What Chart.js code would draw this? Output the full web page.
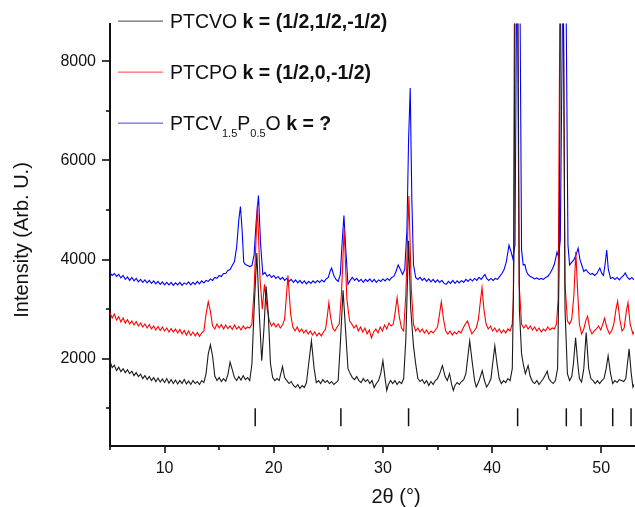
<!DOCTYPE html>
<html>
<head>
<meta charset="utf-8">
<script src="https://cdn.jsdelivr.net/npm/chart.js@4.4.1/dist/chart.umd.min.js"></script>
<style>
  html, body { margin: 0; padding: 0; background: #ffffff; }
  #wrap { width: 635px; height: 507px; position: relative; }
</style>
</head>
<body>
<div id="wrap"><canvas id="c" width="635" height="507"></canvas></div>
<script>
// ---- data (2θ in degrees, intensity in Arb. U.) ----
const xRange = [5, 53];
const yRange = [240, 8760];
const yTickValues = [2000, 4000, 6000, 8000];
const xTickValues = [10, 20, 30, 40, 50];

const seriesNames = ['PTCVO', 'PTCPO', 'PTCV1.5P0.5O'];
const seriesK = ['k = (1/2,1/2,-1/2)', 'k = (1/2,0,-1/2)', 'k = ?'];

const braggPositions = [18.3, 26.15, 32.35, 42.34, 46.8, 48.15, 51.05, 52.73];
const braggLow = 640, braggHigh = 1000;

const ptcvo = [
[5.0,1950],[5.2,1820],[5.4,1870],[5.6,1760],[5.8,1830],[6.0,1740],[6.2,1800],[6.4,1720],[6.6,1780],[6.8,1700],
[7.0,1750],[7.2,1660],[7.4,1720],[7.6,1640],[7.8,1690],[8.0,1600],[8.2,1660],[8.4,1580],[8.6,1640],[8.8,1560],
[9.0,1620],[9.2,1540],[9.4,1610],[9.6,1530],[9.8,1590],[10.0,1520],[10.2,1600],[10.4,1510],[10.6,1580],[10.8,1500],
[11.0,1570],[11.2,1490],[11.4,1560],[11.6,1500],[11.8,1580],[12.0,1490],[12.2,1550],[12.4,1480],[12.6,1560],[12.8,1500],
[13.0,1540],[13.2,1480],[13.4,1560],[13.6,1520],[13.8,1700],[14.0,2100],[14.2,2280],[14.4,2050],[14.6,1650],[14.8,1560],
[15.0,1620],[15.2,1540],[15.4,1600],[15.6,1550],[15.8,1680],[16.0,1930],[16.2,1780],[16.4,1620],[16.6,1560],[16.8,1640],
[17.0,1570],[17.2,1660],[17.4,1580],[17.6,1620],[17.8,1560],[18.0,1900],[18.2,3000],[18.45,4130],[18.7,2800],[18.9,1960],
[19.1,2600],[19.3,3460],[19.5,2900],[19.7,1900],[19.9,1620],[20.1,1560],[20.3,1600],[20.5,1560],[20.8,1840],[21.0,1620],
[21.2,1560],[21.4,1500],[21.6,1540],[21.8,1460],[22.0,1420],[22.2,1480],[22.4,1400],[22.6,1460],[22.8,1420],[23.0,1520],
[23.2,1900],[23.45,2360],[23.7,1800],[23.9,1520],[24.1,1560],[24.3,1500],[24.5,1580],[24.7,1520],[24.9,1560],[25.1,1500],
[25.3,1540],[25.5,1480],[25.7,1520],[25.9,1560],[26.1,2300],[26.35,3380],[26.6,2500],[26.8,1800],[27.0,1700],[27.2,1620],
[27.4,1580],[27.6,1640],[27.8,1560],[28.0,1520],[28.2,1600],[28.4,1540],[28.6,1580],[28.8,1500],[29.0,1560],[29.2,1420],
[29.4,1500],[29.6,1560],[29.8,1700],[30.0,1960],[30.2,1600],[30.35,1360],[30.5,1480],[30.7,1560],[30.9,1500],[31.1,1560],
[31.3,1480],[31.5,1540],[31.7,1500],[31.9,1600],[32.1,2400],[32.35,4380],[32.55,3000],[32.8,2260],[33.0,1900],[33.2,1600],
[33.4,1540],[33.6,1580],[33.8,1500],[34.0,1560],[34.2,1460],[34.4,1540],[34.6,1480],[34.8,1560],[35.0,1600],[35.2,1700],
[35.45,1860],[35.7,1640],[35.9,1560],[36.1,1700],[36.3,1480],[36.45,1360],[36.6,1460],[36.8,1520],[37.0,1480],[37.2,1540],
[37.4,1580],[37.6,1700],[37.95,2360],[38.2,1900],[38.4,1560],[38.55,1430],[38.7,1500],[38.9,1620],[39.1,1760],[39.3,1560],
[39.5,1430],[39.7,1500],[39.9,1600],[40.05,1900],[40.25,2260],[40.45,1900],[40.65,1600],[40.85,1500],[41.05,1560],[41.25,1520],
[41.45,1600],[41.65,1560],[41.85,1800],[42.0,4000],[42.1,9500],[42.22,40000],[42.36,9500],[42.5,3000],[42.7,2100],[42.85,1900],
[43.05,1700],[43.3,1860],[43.5,1640],[43.7,1540],[43.9,1500],[44.1,1560],[44.3,1480],[44.5,1540],[44.7,1600],[44.9,1680],
[45.05,1750],[45.2,1600],[45.4,1540],[45.6,1500],[45.8,1560],[46.0,1800],[46.15,4000],[46.27,9500],[46.4,40000],[46.53,9500],
[46.68,3000],[46.9,1700],[47.1,1560],[47.3,1640],[47.45,1900],[47.65,2420],[47.85,1900],[48.0,1600],[48.2,1530],[48.4,1800],
[48.62,2530],[48.85,1800],[49.05,1600],[49.25,1560],[49.45,1500],[49.65,1560],[49.85,1500],[50.05,1560],[50.25,1600],[50.45,1800],
[50.63,2060],[50.85,1700],[51.05,1500],[51.25,1560],[51.45,1520],[51.65,1580],[51.85,1560],[52.05,1540],[52.25,1600],[52.4,1900],
[52.55,2200],[52.75,1700],[52.9,1430],[53.05,1500]
];

const ptcpo = [
[5.0,2930],[5.2,2820],[5.4,2900],[5.6,2780],[5.8,2850],[6.0,2740],[6.2,2820],[6.4,2720],[6.6,2790],[6.8,2700],
[7.0,2760],[7.2,2680],[7.4,2750],[7.6,2660],[7.8,2720],[8.0,2640],[8.2,2700],[8.4,2620],[8.6,2690],[8.8,2600],
[9.0,2660],[9.2,2580],[9.4,2650],[9.6,2570],[9.8,2640],[10.0,2560],[10.2,2620],[10.4,2540],[10.6,2610],[10.8,2540],
[11.0,2600],[11.2,2520],[11.4,2590],[11.6,2500],[11.8,2570],[12.0,2480],[12.2,2560],[12.4,2470],[12.6,2540],[12.8,2460],
[13.0,2530],[13.2,2450],[13.4,2520],[13.6,2560],[13.8,2900],[14.0,3150],[14.2,2950],[14.4,2660],[14.6,2600],[14.8,2700],
[15.0,2620],[15.2,2690],[15.4,2600],[15.6,2680],[15.8,2610],[16.0,2660],[16.2,2590],[16.4,2680],[16.6,2600],[16.8,2650],
[17.0,2580],[17.2,2660],[17.4,2600],[17.6,2640],[17.8,2620],[18.0,2700],[18.2,3400],[18.5,5100],[18.75,3600],[18.95,3000],
[19.15,3500],[19.4,3000],[19.6,2760],[19.8,2660],[20.0,2720],[20.2,2640],[20.4,2700],[20.6,2620],[20.8,2680],[21.0,2800],
[21.3,3680],[21.55,2900],[21.75,2640],[21.95,2560],[22.15,2640],[22.35,2540],[22.55,2600],[22.75,2520],[22.95,2580],[23.15,2500],
[23.35,2560],[23.55,2480],[23.75,2540],[23.95,2460],[24.15,2520],[24.35,2460],[24.55,2540],[24.75,2600],[24.9,2850],[25.05,3130],
[25.2,2850],[25.4,2620],[25.6,2560],[25.8,2640],[26.0,2700],[26.2,3300],[26.45,4620],[26.7,3200],[26.95,2760],[27.15,2700],
[27.35,2620],[27.55,2680],[27.75,2560],[27.95,2640],[28.15,2540],[28.35,2620],[28.55,2500],[28.75,2580],[28.95,2420],[29.15,2540],
[29.35,2600],[29.55,2520],[29.75,2640],[29.95,2560],[30.15,2680],[30.35,2600],[30.55,2720],[30.75,2660],[30.95,2700],[31.1,2900],
[31.3,3230],[31.5,2850],[31.7,2620],[31.9,2560],[32.1,3300],[32.38,5280],[32.6,3400],[32.8,2700],[33.0,2560],[33.2,2620],
[33.4,2540],[33.6,2600],[33.8,2520],[34.0,2580],[34.2,2500],[34.4,2560],[34.6,2520],[34.8,2580],[35.0,2640],[35.15,2850],
[35.35,3150],[35.55,2800],[35.75,2560],[35.95,2500],[36.15,2560],[36.35,2480],[36.55,2540],[36.75,2500],[36.95,2560],[37.15,2520],
[37.35,2620],[37.55,2700],[37.75,2760],[37.95,2620],[38.15,2500],[38.35,2560],[38.55,2620],[38.75,2800],[38.95,3200],[39.08,3430],
[39.25,3000],[39.45,2700],[39.65,2600],[39.85,2660],[40.05,2560],[40.25,2620],[40.45,2540],[40.65,2600],[40.85,2520],[41.05,2580],
[41.25,2520],[41.45,2600],[41.65,2560],[41.85,2700],[41.95,3200],[42.05,9500],[42.18,40000],[42.32,9500],[42.48,3500],[42.7,2700],
[42.9,2620],[43.1,2680],[43.3,2600],[43.5,2660],[43.7,2580],[43.9,2640],[44.1,2560],[44.3,2620],[44.5,2540],[44.7,2600],
[44.9,2560],[45.1,2640],[45.3,2580],[45.5,2620],[45.7,2600],[45.9,2700],[46.05,3200],[46.22,9500],[46.37,40000],[46.52,9500],
[46.68,3500],[46.9,2760],[47.1,2700],[47.3,2800],[47.5,3300],[47.67,4160],[47.85,3300],[48.0,2700],[48.2,2500],[48.4,2600],
[48.6,2780],[48.75,2860],[48.95,2600],[49.15,2500],[49.35,2560],[49.55,2600],[49.75,2660],[49.95,2580],[50.15,2700],[50.3,2820],
[50.5,2640],[50.75,2500],[50.95,2560],[51.15,2700],[51.35,3000],[51.5,3160],[51.7,2800],[51.9,2560],[52.1,2620],[52.3,2960],
[52.45,3130],[52.65,2700],[52.9,2500],[53.05,2560]
];

const ptcvpo = [
[5.0,3730],[5.2,3680],[5.4,3720],[5.6,3660],[5.8,3700],[6.0,3630],[6.2,3680],[6.4,3600],[6.6,3650],[6.8,3580],
[7.0,3640],[7.2,3570],[7.4,3620],[7.6,3550],[7.8,3600],[8.0,3540],[8.2,3590],[8.4,3530],[8.6,3580],[8.8,3520],
[9.0,3570],[9.2,3510],[9.4,3560],[9.6,3500],[9.8,3550],[10.0,3490],[10.2,3540],[10.4,3490],[10.6,3540],[10.8,3480],
[11.0,3530],[11.2,3490],[11.4,3540],[11.6,3480],[11.8,3530],[12.0,3500],[12.2,3550],[12.4,3490],[12.6,3540],[12.8,3500],
[13.0,3560],[13.2,3510],[13.4,3570],[13.6,3530],[13.8,3580],[14.0,3560],[14.2,3610],[14.4,3580],[14.6,3640],[14.8,3620],
[15.0,3680],[15.2,3660],[15.4,3720],[15.6,3720],[15.8,3780],[16.0,3800],[16.2,3880],[16.4,3960],[16.6,4250],[16.8,4800],
[16.95,5070],[17.1,4600],[17.25,3950],[17.4,3900],[17.6,3880],[17.8,3860],[18.0,3880],[18.2,4100],[18.4,4800],[18.6,5290],
[18.8,4300],[19.0,3700],[19.2,3740],[19.4,3660],[19.6,3700],[19.8,3640],[20.0,3680],[20.2,3620],[20.4,3660],[20.6,3600],
[20.8,3640],[21.0,3580],[21.2,3620],[21.4,3560],[21.6,3600],[21.8,3540],[22.0,3590],[22.2,3530],[22.4,3580],[22.6,3520],
[22.8,3570],[23.0,3510],[23.2,3560],[23.4,3520],[23.6,3570],[23.8,3530],[24.0,3580],[24.2,3540],[24.4,3590],[24.6,3550],
[24.8,3610],[25.0,3640],[25.15,3760],[25.3,3830],[25.5,3680],[25.7,3600],[25.9,3560],[26.1,3700],[26.25,4300],[26.43,4890],
[26.6,4200],[26.8,3500],[27.0,3580],[27.2,3640],[27.4,3580],[27.6,3620],[27.8,3560],[28.0,3600],[28.2,3540],[28.4,3600],
[28.6,3560],[28.8,3610],[29.0,3550],[29.2,3600],[29.4,3540],[29.6,3590],[29.8,3560],[30.0,3610],[30.2,3570],[30.4,3620],
[30.6,3580],[30.8,3640],[31.0,3660],[31.2,3760],[31.4,3890],[31.6,3800],[31.8,3700],[32.0,3800],[32.2,4600],[32.35,6400],
[32.5,7460],[32.65,5200],[32.8,3900],[33.0,3640],[33.2,3600],[33.4,3640],[33.6,3580],[33.8,3620],[34.0,3560],[34.2,3610],
[34.4,3550],[34.6,3600],[34.8,3540],[35.0,3590],[35.2,3540],[35.4,3580],[35.6,3520],[35.8,3500],[36.0,3560],[36.2,3520],
[36.4,3580],[36.6,3520],[36.8,3570],[37.0,3530],[37.2,3580],[37.4,3540],[37.6,3600],[37.8,3560],[38.0,3610],[38.2,3570],
[38.4,3620],[38.6,3580],[38.8,3640],[39.0,3600],[39.2,3660],[39.35,3700],[39.5,3620],[39.7,3580],[39.9,3620],[40.1,3580],
[40.3,3620],[40.5,3600],[40.7,3660],[40.9,3720],[41.1,3800],[41.3,3950],[41.55,4290],[41.75,4150],[41.9,4020],[42.1,4300],
[42.25,9500],[42.4,40000],[42.55,9500],[42.7,4200],[42.85,3890],[43.0,3900],[43.15,3760],[43.3,3700],[43.5,3660],[43.7,3640],
[43.9,3610],[44.1,3630],[44.3,3600],[44.5,3620],[44.7,3600],[44.9,3640],[45.1,3660],[45.3,3720],[45.5,3800],[45.7,3900],
[45.95,4150],[46.1,4050],[46.25,4400],[46.47,9500],[46.62,40000],[46.77,9500],[46.95,4300],[47.1,3890],[47.3,3950],[47.5,4000],
[47.7,4100],[47.88,4230],[48.05,4000],[48.2,3900],[48.4,3760],[48.6,3800],[48.8,3740],[49.0,3700],[49.2,3720],[49.4,3680],
[49.6,3720],[49.87,3830],[50.05,3720],[50.2,3680],[50.35,3900],[50.5,4190],[50.65,3800],[50.85,3620],[51.05,3640],[51.25,3600],
[51.45,3640],[51.65,3590],[51.85,3640],[52.05,3680],[52.2,3730],[52.4,3640],[52.6,3600],[52.8,3640],[53.0,3590]
];

// ---- styles ----
const FONT = '"Liberation Sans", Arial, Helvetica, sans-serif';
const lineColors = ['#1a1a1a', '#ff0000', '#0000ff'];
const legendSwatch = ['#707070', '#ff6a6a', '#6a6aff'];

const toXY = arr => arr.map(p => ({ x: p[0], y: p[1] }));
const braggData = [];
braggPositions.forEach(b => {
  braggData.push({ x: b, y: braggLow }, { x: b, y: braggHigh }, { x: b, y: null });
});

const axisPlugin = {
  id: 'axisDecor',
  afterDraw(chart) {
    const ctx = chart.ctx;
    const xs = chart.scales.x, ys = chart.scales.y;
    const ca = chart.chartArea;
    ctx.save();
    ctx.fillStyle = '#111';
    // y ticks: major every 2000, minor every 1000
    for (let v = 1000; v <= ys.max; v += 1000) {
      if (v < ys.min) continue;
      const py = Math.round(ys.getPixelForValue(v));
      const len = (v % 2000 === 0) ? 8 : 4;
      ctx.fillRect(ca.left - len, py - 0.8, len, 1.6);
    }
    // x ticks: major every 10, minor every 5
    for (let v = 5; v <= xs.max; v += 5) {
      const px = Math.round(xs.getPixelForValue(v));
      const len = (v % 10 === 0) ? 7 : 4;
      ctx.fillRect(px - 0.8, ca.bottom, 1.6, len);
    }
    // axis titles
    ctx.font = '20px ' + FONT;
    ctx.textAlign = 'center';
    ctx.textBaseline = 'middle';
    ctx.fillText('2θ (°)', xs.getPixelForValue(31.2), 497);
    ctx.save();
    ctx.translate(22, 240);
    ctx.rotate(-Math.PI / 2);
    ctx.fillText('Intensity (Arb. U.)', 0, 0);
    ctx.restore();

    // legend
    const rowsY = [21, 72, 123];
    ctx.textAlign = 'left';
    ctx.textBaseline = 'alphabetic';
    for (let i = 0; i < 3; i++) {
      const y = rowsY[i];
      ctx.fillStyle = legendSwatch[i];
      ctx.fillRect(118, y - 0.5, 45, 1.3);
      ctx.fillStyle = '#111';
      let x = 170;
      const base = y + 7;
      const put = (txt, font, dy) => {
        ctx.font = font;
        ctx.fillText(txt, x, base + dy);
        x += ctx.measureText(txt).width;
      };
      const normal = '19.5px ' + FONT, bold = 'bold 19.5px ' + FONT, sub = '11px ' + FONT;
      if (i < 2) {
        put(seriesNames[i] + ' ', normal, 0);
        put(seriesK[i], bold, 0);
      } else {
        put('PTCV', normal, 0);
        put('1.5', sub, 7);
        put('P', normal, 0);
        put('0.5', sub, 7);
        put('O ', normal, 0);
        put(seriesK[i], bold, 0);
      }
    }
    ctx.restore();
  }
};

new Chart(document.getElementById('c'), {
  type: 'line',
  data: {
    datasets: [
      { label: seriesNames[0], data: toXY(ptcvo), borderColor: lineColors[0], borderWidth: 1.1 },
      { label: seriesNames[1], data: toXY(ptcpo), borderColor: lineColors[1], borderWidth: 1.1 },
      { label: seriesNames[2], data: toXY(ptcvpo), borderColor: lineColors[2], borderWidth: 1.1 },
      { label: 'Bragg', data: braggData, borderColor: '#111', borderWidth: 1.5, spanGaps: false }
    ]
  },
  options: {
    responsive: false,
    animation: false,
    devicePixelRatio: 1,
    elements: { point: { radius: 0 }, line: { tension: 0 } },
    layout: { padding: { left: 0, top: 20, right: 1, bottom: 0 } },
    plugins: { legend: { display: false }, tooltip: { enabled: false } },
    scales: {
      x: {
        type: 'linear', min: xRange[0], max: xRange[1],
        grid: { display: false, drawTicks: false, tickLength: 0 },
        border: { display: true, color: '#111', width: 2 },
        ticks: {
          padding: 13, maxRotation: 0, autoSkip: false,
          color: '#111', font: { family: FONT, size: 16 },
          callback: v => String(v)
        },
        afterBuildTicks: s => { s.ticks = xTickValues.map(v => ({ value: v })); },
        afterFit: s => { s.height = 61; }
      },
      y: {
        type: 'linear', min: yRange[0], max: yRange[1],
        grid: { display: false, drawTicks: false, tickLength: 0 },
        border: { display: true, color: '#111', width: 2 },
        ticks: {
          padding: 14, autoSkip: false,
          color: '#111', font: { family: FONT, size: 16 },
          callback: v => String(v)
        },
        afterBuildTicks: s => { s.ticks = yTickValues.map(v => ({ value: v })); },
        afterFit: s => { s.width = 110; }
      }
    }
  },
  plugins: [axisPlugin]
});
</script>
</body>
</html>
